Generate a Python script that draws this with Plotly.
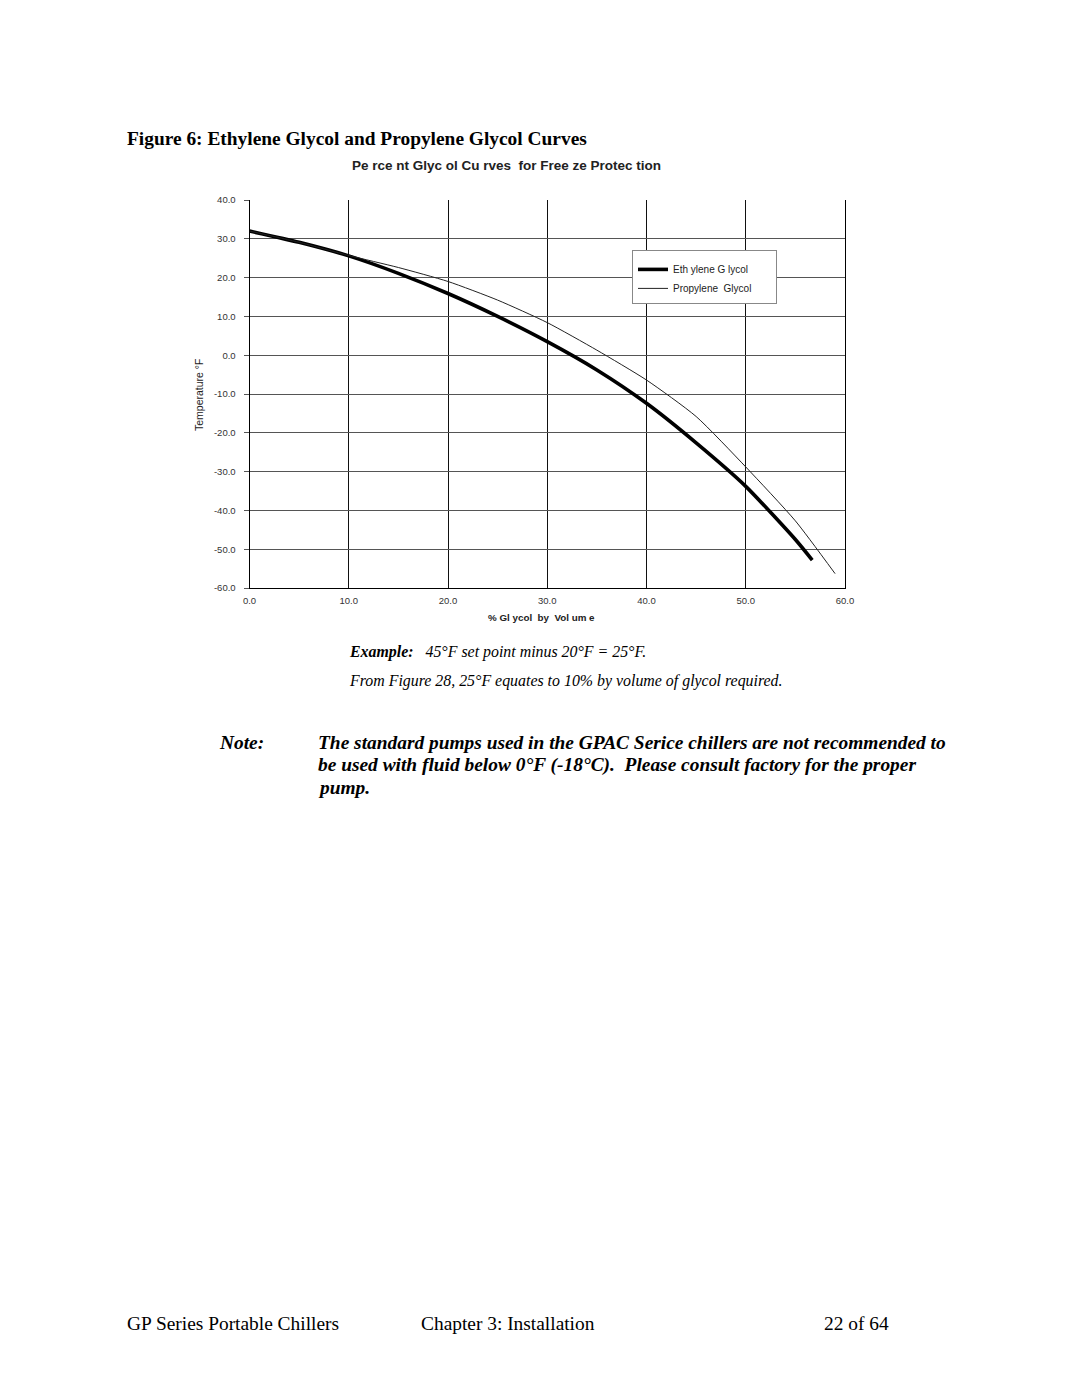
import plotly.graph_objects as go

# ---- data ----
eg_pct = [0, 5, 10, 15, 20, 25, 30, 35, 40, 45, 50, 55, 56.7]
eg_temp = [32.0, 29.1, 25.6, 21.1, 15.9, 10.0, 3.5, -3.8, -12.4, -22.6, -33.8, -47.5, -52.8]
pg_pct = [0, 5, 10, 15, 20, 25, 30, 35, 40, 45, 50, 55, 59.0]
pg_temp = [32.0, 29.1, 25.7, 22.6, 19.0, 14.2, 8.4, 1.3, -6.4, -15.8, -28.8, -42.7, -56.3]
x_ticks = [0, 10, 20, 30, 40, 50, 60]
y_ticks = [40, 30, 20, 10, 0, -10, -20, -30, -40, -50, -60]

W, H = 1080, 1397
def px(x):
    return x / W
def py(y):
    return 1 - y / H

SERIF = "Liberation Serif"
SANS = "Liberation Sans"
PAD = "\u00a0" * 7

fig = go.Figure()
fig.add_trace(go.Scatter(x=eg_pct, y=eg_temp, mode="lines", name="Eth ylene G lycol" + PAD,
                         line=dict(color="black", width=3.6, shape="spline", smoothing=0.6)))
fig.add_trace(go.Scatter(x=pg_pct, y=pg_temp, mode="lines", name="Propylene  Glycol" + PAD,
                         line=dict(color="#222222", width=1, shape="spline", smoothing=0.6)))

fig.update_layout(
    template="none",
    width=W, height=H, autosize=False,
    margin=dict(l=0, r=0, t=0, b=0, pad=0),
    paper_bgcolor="white", plot_bgcolor="white",
    showlegend=True,
    legend=dict(x=px(632), y=py(250), xanchor="left", yanchor="top",
                bgcolor="white", bordercolor="#888888", borderwidth=1,
                font=dict(family=SANS, size=10, color="#222222"),
                title=dict(text=" ", font=dict(size=3)),
                itemwidth=30),
    xaxis=dict(domain=[px(249.5), px(845)], range=[0, 60], tickmode="array",
               tickvals=x_ticks, ticktext=[f"{v:.1f}" for v in x_ticks],
               showgrid=True, gridcolor="#111111", gridwidth=1, automargin=False,
               showline=True, linecolor="black", linewidth=1, mirror=False,
               zeroline=False, ticks="", ticklabelstandoff=4,
               tickfont=dict(family=SANS, size=9.5, color="#333333")),
    yaxis=dict(domain=[py(588), py(200)], range=[-60, 40], tickmode="array",
               tickvals=y_ticks, ticktext=[f"{v:.1f}" for v in y_ticks],
               showgrid=True, gridcolor="#555555", gridwidth=1, automargin=False,
               showline=True, linecolor="black", linewidth=1, mirror=True,
               zeroline=False, ticks="outside", ticklen=5, tickcolor="#555555",
               ticklabelstandoff=6,
               tickfont=dict(family=SANS, size=9.5, color="#333333")),
)

ann = []
def text(x, y, s, size, family=SERIF, xanchor="left", angle=0, color="black"):
    dx = -2 if xanchor == "left" else (2 if xanchor == "right" else 0)
    ann.append(dict(x=px(x + dx), y=py(y), xref="paper", yref="paper", text=s,
                    showarrow=False, xanchor=xanchor, yanchor="middle",
                    textangle=angle, font=dict(family=family, size=size, color=color)))

text(127, 138, "<b>Figure 6: Ethylene Glycol and Propylene Glycol Curves</b>", 19.4)
text(506, 165, "<b>Pe rce nt Glyc ol Cu rves  for Free ze Protec tion</b>", 13.5, SANS, "center", color="#222222")
text(199, 395, "Temperature °F", 10.5, SANS, "center", -90, "#222222")
text(541, 617, "<b>% Gl ycol  by  Vol um e</b>", 9.8, SANS, "center", color="#222222")
text(349, 652, "<b><i>Example:</i></b><i>   45°F set point minus 20°F = 25°F.</i>", 15.9)
text(349, 681, "<i>From Figure 28, 25°F equates to 10% by volume of glycol required.</i>", 15.9)
text(219, 742, "<b><i>Note:</i></b>", 19.4)
text(318, 742, "<b><i>The standard pumps used in the GPAC Serice chillers are not recommended to</i></b>", 19.4)
text(318, 765, "<b><i>be used with fluid below 0°F (-18°C).  Please consult factory for the proper</i></b>", 19.4)
text(318, 787, "<b><i>pump.</i></b>", 19.4)
text(127, 1323, "GP Series Portable Chillers", 19.4)
text(421, 1323, "Chapter 3: Installation", 19.4)
text(889, 1323, "22 of 64", 19.4, xanchor="right")
fig.update_layout(annotations=ann)

fig.write_html("out.html", config={"displayModeBar": False, "responsive": False},
               post_script="document.body.style.margin='0';document.body.style.overflow='hidden';")
